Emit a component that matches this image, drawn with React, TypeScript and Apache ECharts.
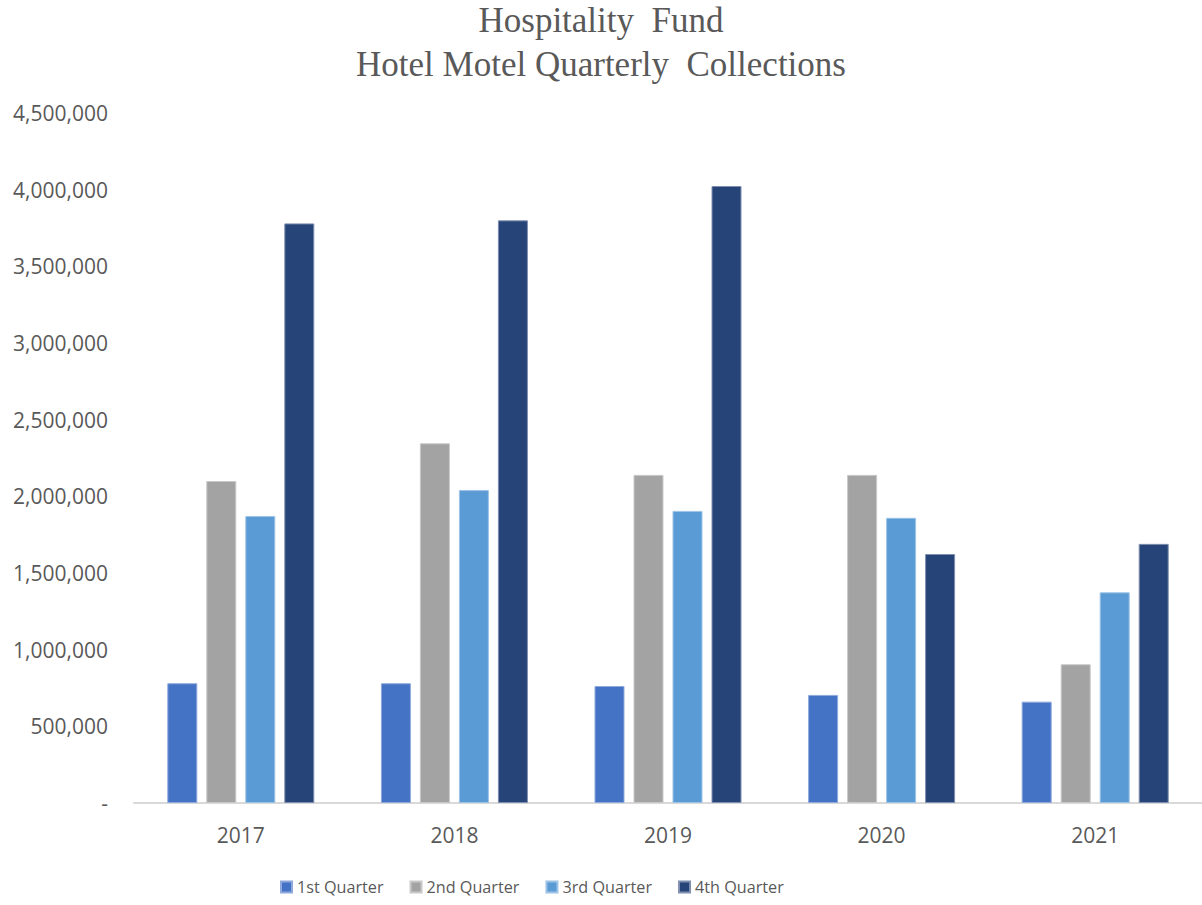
import React, { useEffect, useRef } from "react";
import * as echarts from "echarts";

const categories = ["2017", "2018", "2019", "2020", "2021"];
const seriesNames = ["1st Quarter", "2nd Quarter", "3rd Quarter", "4th Quarter"];
const titleLines = ["Hospitality  Fund", "Hotel Motel Quarterly  Collections"];
const q1 = [781000, 781000, 763000, 705000, 661000];
const q2 = [2100000, 2346000, 2140000, 2140000, 905000];
const q3 = [1872000, 2041000, 1905000, 1860000, 1374000];
const q4 = [3780000, 3800000, 4024000, 1624000, 1690000];
const colors = ["#4472C4", "#A3A3A3", "#5B9BD5", "#264478"];
const borderColors = ["#8FA9DC", "#C9C9C9", "#9DC3E6", "#7F8FB0"];

export default function App() {
  const ref = useRef<HTMLDivElement>(null);
  useEffect(() => {
    if (!ref.current) return;
    const chart = echarts.init(ref.current, undefined, { renderer: "svg" });
    const data = [q1, q2, q3, q4];
    const titleStyle = {
      fontFamily: "'Liberation Serif', 'Times New Roman', serif",
      fontSize: 35,
      lineHeight: 38,
      fontWeight: "normal",
      color: "#595959",
    };
    chart.setOption({
      animation: false,
      backgroundColor: "#ffffff",
      title: titleLines.map((t, i) => ({
        text: t,
        left: "center",
        top: 1 + i * 44,
        padding: 0,
        textStyle: titleStyle,
      })),
      legend: {
        data: seriesNames,
        left: 275,
        top: 874,
        icon: "rect",
        itemWidth: 11,
        itemHeight: 11,
        itemGap: 26,
        textStyle: {
          fontFamily: "'Open Sans', sans-serif",
          fontSize: 16.2,
          color: "#595959",
        },
      },
      grid: { left: 134, width: 1072, top: 113, height: 690, containLabel: false },
      xAxis: {
        type: "category",
        data: categories,
        axisLine: { lineStyle: { color: "#D9D9D9", width: 2 } },
        axisTick: { show: false },
        axisLabel: {
          margin: 21,
          fontFamily: "'Open Sans', sans-serif",
          fontSize: 21,
          color: "#595959",
        },
      },
      yAxis: {
        type: "value",
        min: 0,
        max: 4500000,
        interval: 500000,
        splitLine: { show: false },
        axisLine: { show: false },
        axisTick: { show: false },
        axisLabel: {
          margin: 26,
          fontFamily: "'Open Sans', sans-serif",
          fontSize: 21,
          color: "#595959",
          formatter: (v: number) => (v === 0 ? "-" : v.toLocaleString("en-US")),
        },
      },
      series: seriesNames.map((name, i) => ({
        name,
        type: "bar",
        data: data[i],
        barWidth: 30,
        barGap: "30%",
        itemStyle: { color: colors[i], borderColor: borderColors[i], borderWidth: 1 },
      })),
    });
    return () => chart.dispose();
  }, []);
  return (
    <div
      ref={ref}
      style={{ position: "absolute", left: 0, top: 0, width: 1202, height: 905 }}
    />
  );
}
